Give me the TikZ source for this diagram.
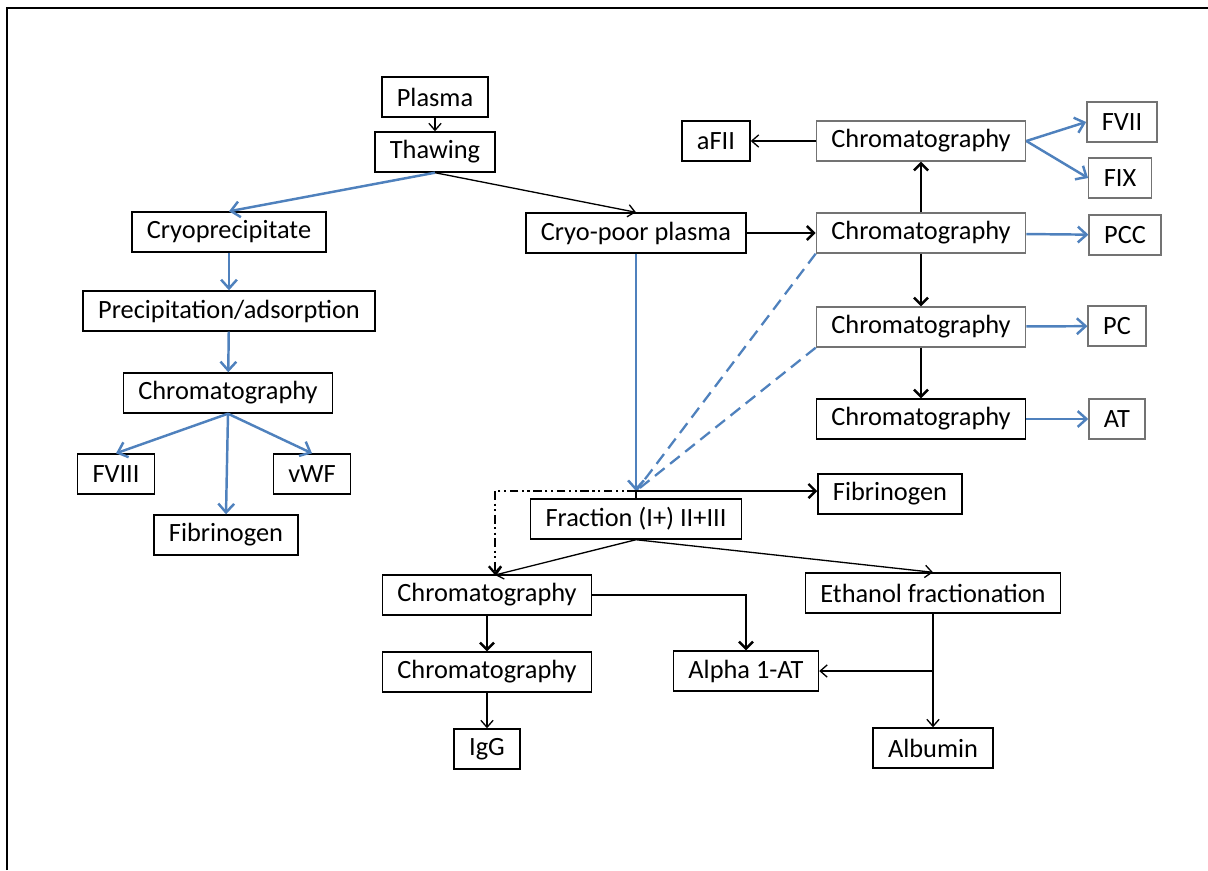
\documentclass[tikz,border=0pt]{standalone}
\usepackage{fontspec}
\setmainfont{Carlito}
\usetikzlibrary{arrows.meta}
\definecolor{flowblue}{RGB}{79,129,189}
\tikzset{
  box/.style={draw, line width=0.8pt, minimum height=0.8cm,
    inner xsep=0.3cm, font=\fontsize{15}{18}\selectfont},
  gbox/.style={box, draw=black!55},
  blk/.style={line width=0.75pt, -{Straight Barb[length=4pt,width=7pt]}},
  blkthick/.style={line width=1.4pt, -{Straight Barb[length=4pt,width=8pt]}},
  blu/.style={flowblue, line width=1.4pt, -{Straight Barb[length=5pt,width=9pt]}},
  bludash/.style={flowblue, line width=1.3pt, dash pattern=on 7pt off 4pt},
  dashdotdot/.style={line width=1.3pt, dash pattern=on 5pt off 2pt on 1.2pt off 2pt on 1.2pt off 2pt}
}
\begin{document}
\begin{tikzpicture}[x=0.02cm,y=-0.02cm]
  \useasboundingbox (0,0) rectangle (1208,870);
  \draw[line width=1.4pt] (7,870) -- (7,8) -- (1208,8);

  % left branch
  \node[box] (plasma) at (435,97) {Plasma};
  \node[box] (thaw) at (435,152) {Thawing};
  \node[box] (cryo) at (229,232) {Cryoprecipitate};
  \node[box] (precip) at (229,311) {Precipitation/adsorption};
  \node[box] (chromL) at (228,393) {Chromatography};
  \node[box] (fviii) at (116,474) {FVIII};
  \node[box] (vwf) at (312,474) {vWF};
  \node[box] (fibL) at (226,535) {Fibrinogen};

  % right column
  \node[box] (poor) at (636,233) {Cryo-poor plasma};
  \node[box] (afii) at (716,141) {aFII};
  \node[gbox] (chromA) at (921,141) {Chromatography};
  \node[gbox] (fvii) at (1122,122) {FVII};
  \node[gbox] (fix) at (1120,178) {FIX};
  \node[gbox] (chromB) at (921,233) {Chromatography};
  \node[gbox] (pcc) at (1125,235) {PCC};
  \node[gbox] (chromC) at (921,327) {Chromatography};
  \node[gbox] (pc) at (1117,326) {PC};
  \node[box] (chromD) at (921,419) {Chromatography};
  \node[gbox] (at) at (1117,419) {AT};

  % fractionation
  \node[box] (fibR) at (890,494) {Fibrinogen};
  \node[box] (frac) at (636,519) {Fraction (I+) II+III};
  \node[box] (chromE) at (487,595) {Chromatography};
  \node[box] (ethanol) at (933,593) {Ethanol fractionation};
  \node[box] (alpha) at (746,671) {Alpha 1-AT};
  \node[box] (chromF) at (487,672) {Chromatography};
  \node[box] (igg) at (487,749) {IgG};
  \node[box] (albumin) at (933,748) {Albumin};
  \coordinate (jn) at (636,491);
  \coordinate (ein) at (495,575);
  \coordinate (split) at (ethanol.south |- alpha.east);

  \draw[blk] (plasma) -- (thaw);
  \draw[blu] (thaw.south) -- (cryo.north);
  \draw[blk] (thaw.south) -- (poor.north);
  \draw[blu] (cryo) -- (precip);
  \draw[blu] (precip) -- (chromL);
  \draw[blu] (chromL.south) -- (fviii.north);
  \draw[blu] (chromL.south) -- (fibL.north);
  \draw[blu] (chromL.south) -- (vwf.north);

  \draw[blkthick] (poor) -- (chromB);
  \draw[blkthick] (chromB) -- (chromA);
  \draw[blkthick] (chromB) -- (chromC);
  \draw[blkthick] (chromC) -- (chromD);
  \draw[blk] (chromA) -- (afii);
  \draw[blu] (chromA.east) -- (fvii.west);
  \draw[blu] (chromA.east) -- (fix.west);
  \draw[blu] (chromB) -- (pcc);
  \draw[blu] (chromC) -- (pc);
  \draw[blu] (chromD) -- (at);

  \draw[bludash] (chromB.south west) -- (jn);
  \draw[bludash] (chromC.south west) -- (jn);
  \draw[blu] (poor.south) -- (jn);
  \draw[line width=1.4pt] (frac.north) -- (jn);
  \draw[blkthick] (jn) -- (jn -| fibR.west);
  \draw[dashdotdot, -{Straight Barb[length=4pt,width=7pt]}] (jn) -| (ein);

  \draw[blk] (frac.south) -- (ein);
  \draw[blk] (frac.south) -- (ethanol.north);
  \draw[blkthick] (chromE.east) -| (alpha.north);
  \draw[blkthick] (chromE) -- (chromF);
  \draw[blk] (chromF) -- (igg);
  \draw[blk] (ethanol) -- (albumin);
  \draw[blk] (split) -- (alpha.east);
\end{tikzpicture}
\end{document}
